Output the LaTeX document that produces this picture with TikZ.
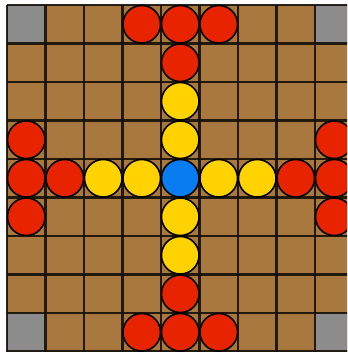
\documentclass[tikz,border=0pt]{standalone}
\usetikzlibrary{calc}
\definecolor{boardbrown}{HTML}{A8783F}
\definecolor{cornergray}{HTML}{8C8C8C}
\definecolor{attackred}{HTML}{E82400}
\definecolor{defyellow}{HTML}{FFD200}
\definecolor{kingblue}{HTML}{0A7CF2}
\definecolor{gridline}{HTML}{14100A}
\tikzset{
  cellbox/.style={fill=boardbrown},
  cornerbox/.style={fill=cornergray},
  piece/.style={circle, draw=black, line width=1.6pt, minimum size=37.6pt, inner sep=0pt},
  attacker/.style={piece, fill=attackred},
  defender/.style={piece, fill=defyellow},
  king/.style={piece, fill=kingblue},
}
\begin{document}
\begin{tikzpicture}[x=1pt,y=-1pt]
\useasboundingbox (0,0) rectangle (347,352);
\fill[white] (0,0) rectangle (347,352);
\def\cs{38.5}
\def\ox{7}
\def\oy{5}
\begin{scope}
\clip (0,0) rectangle (347,352);
\fill[boardbrown] (\ox,\oy) rectangle ({\ox+9*\cs},{\oy+9*\cs});
\foreach \c/\r in {0/0,8/0,0/8,8/8}
  \fill[cornergray] ({\ox+\c*\cs},{\oy+\r*\cs}) rectangle ({\ox+(\c+1)*\cs},{\oy+(\r+1)*\cs});
\foreach \i in {0,...,9} {
  \draw[gridline, line width=2.6pt, opacity=0.9] ({\ox+\i*\cs},\oy) -- ({\ox+\i*\cs},{\oy+9*\cs});
  \draw[gridline, line width=2.6pt, opacity=0.9] (\ox,{\oy+\i*\cs}) -- ({\ox+9*\cs},{\oy+\i*\cs});
}
\foreach \c/\r/\n in {3/0/a1,4/0/a2,5/0/a3,4/1/a4,
                      0/3/a5,0/4/a6,0/5/a7,1/4/a8,
                      8/3/a9,8/4/a10,8/5/a11,7/4/a12,
                      3/8/a13,4/8/a14,5/8/a15,4/7/a16}
  \node[attacker] (\n) at ({\ox+(\c+0.5)*\cs},{\oy+(\r+0.5)*\cs}) {};
\foreach \c/\r/\n in {4/2/d1,4/3/d2,4/5/d3,4/6/d4,2/4/d5,3/4/d6,5/4/d7,6/4/d8}
  \node[defender] (\n) at ({\ox+(\c+0.5)*\cs},{\oy+(\r+0.5)*\cs}) {};
\node[king] (k) at ({\ox+4.5*\cs},{\oy+4.5*\cs}) {};
\end{scope}
\end{tikzpicture}
\end{document}
